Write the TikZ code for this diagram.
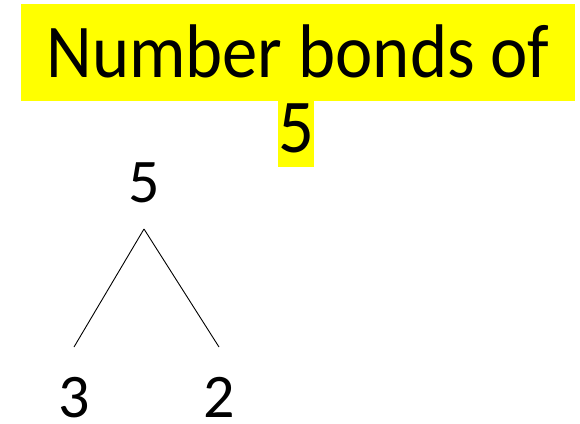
\documentclass[tikz,border=0pt]{standalone}
\usepackage{fontspec}
\setmainfont{Carlito}
\newfontfamily\titlefont{Carlito}[FakeStretch=0.93]
\usepackage{tikz}
\usetikzlibrary{positioning}
\definecolor{BondYellow}{HTML}{FFFF00}
\definecolor{BondInk}{HTML}{000000}

\begin{document}
\begin{tikzpicture}[x=1pt,y=-1pt,
    hilite/.style={fill=BondYellow,inner sep=0pt,outer sep=0pt,anchor=base,text=BondInk,
      font=\titlefont\fontsize{76}{76}\selectfont},
    digit/.style={inner sep=0pt,outer sep=0pt,anchor=base,text=BondInk,
      font=\fontsize{62}{62}\selectfont,text height=39pt,text depth=0pt}]
  \useasboundingbox (0,0) rectangle (580,423);
  % title, highlighted
  \node[hilite,minimum width=554pt,text height=73pt,text depth=24pt] (title) at (298,77) {Number bonds of};
  \node[hilite,minimum width=34pt,text height=51pt,text depth=15pt] (whole) at (296,152) {5};
  % the bond
  \node[digit] (top) at (144,202) {5};
  \node[digit] (left) at (74,417) {3};
  \node[digit] (right) at (219,417) {2};
  \coordinate[below=27pt of top] (apex);
  \coordinate[above=31pt of left] (leftend);
  \coordinate[above=31pt of right] (rightend);
  \draw[BondInk,line width=0.9pt] (apex) -- (leftend);
  \draw[BondInk,line width=0.9pt] (apex) -- (rightend);
\end{tikzpicture}
\end{document}
